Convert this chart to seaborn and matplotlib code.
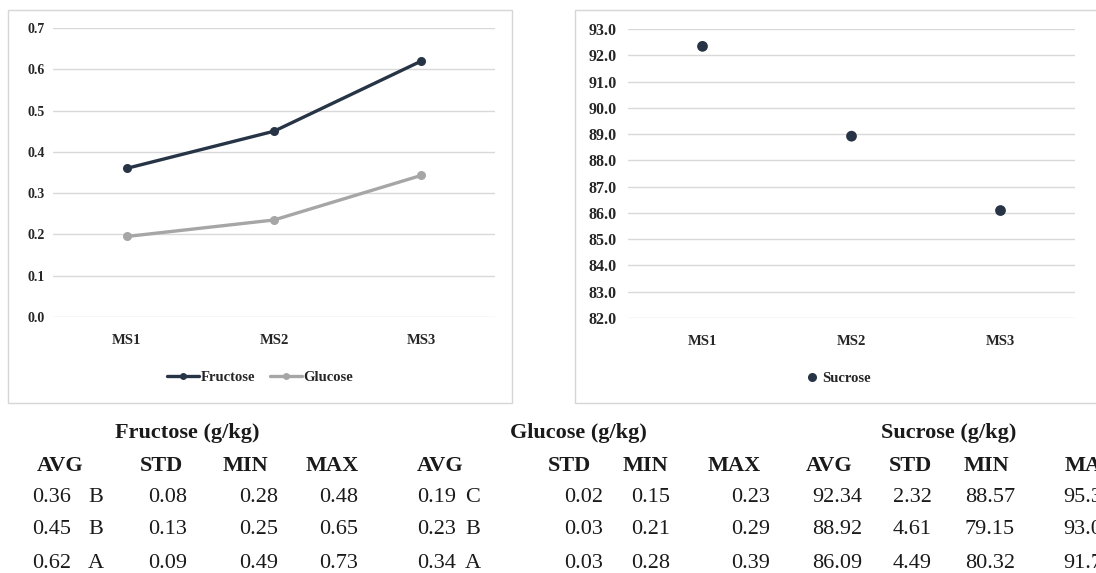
import matplotlib
matplotlib.use("Agg")
import matplotlib.pyplot as plt
import seaborn as sns
import pandas as pd
from matplotlib.patches import Rectangle
from matplotlib.lines import Line2D

# ---------------- data ----------------
samples = ["MS1", "MS2", "MS3"]
fructose = [0.36, 0.45, 0.62]
glucose = [0.195, 0.235, 0.343]
sucrose = [92.34, 88.92, 86.09]

left_yticks = [0.0, 0.1, 0.2, 0.3, 0.4, 0.5, 0.6, 0.7]
right_yticks = [82.0, 83.0, 84.0, 85.0, 86.0, 87.0, 88.0, 89.0, 90.0, 91.0, 92.0, 93.0]

table_titles = ["Fructose (g/kg)", "Glucose (g/kg)", "Sucrose (g/kg)"]
table_headers = ["AVG", "STD", "MIN", "MAX"]
fru_avg = ["0.36", "0.45", "0.62"]
fru_grp = ["B", "B", "A"]
fru_std = ["0.08", "0.13", "0.09"]
fru_min = ["0.28", "0.25", "0.49"]
fru_max = ["0.48", "0.65", "0.73"]
glu_avg = ["0.19", "0.23", "0.34"]
glu_grp = ["C", "B", "A"]
glu_std = ["0.02", "0.03", "0.03"]
glu_min = ["0.15", "0.21", "0.28"]
glu_max = ["0.23", "0.29", "0.39"]
suc_avg = ["92.34", "88.92", "86.09"]
suc_std = ["2.32", "4.61", "4.49"]
suc_min = ["88.57", "79.15", "80.32"]
suc_max = ["95.35", "93.05", "91.72"]

# ---------------- style ----------------
sns.set_theme(style="white")
plt.rcParams["font.family"] = ["Liberation Serif", "DejaVu Serif"]

W, H = 1096, 573
fig = plt.figure(figsize=(W / 100, H / 100), dpi=100)
fig.patch.set_facecolor("white")


def fx(x):
    return x / W


def fy(y):
    return 1 - y / H


NAVY = "#263445"
GRAY = "#a6a6a6"
GRID = "#d9d9d9"

# panel boxes
fig.patches.append(Rectangle((fx(8), fy(403)), fx(504), (403 - 10) / H,
                             transform=fig.transFigure, fill=False,
                             edgecolor="#d6d6d6", linewidth=1.0))
fig.patches.append(Rectangle((fx(575), fy(403)), fx(540), (403 - 10) / H,
                             transform=fig.transFigure, fill=False,
                             edgecolor="#d6d6d6", linewidth=1.0))

cat_font = dict(family="Liberation Serif", weight="bold", size=10.5)

# ---------------- left chart ----------------
axl = fig.add_axes([fx(53), fy(317), (495 - 53) / W, (317 - 28) / H])
df_l = pd.DataFrame({
    "Sample": samples * 2,
    "Value": fructose + glucose,
    "Sugar": ["Fructose"] * 3 + ["Glucose"] * 3,
})
df_l["x"] = df_l["Sample"].map({s: i for i, s in enumerate(samples)})
sns.lineplot(data=df_l, x="x", y="Value", hue="Sugar",
             palette={"Fructose": NAVY, "Glucose": GRAY},
             marker="o", markersize=6.5, markeredgewidth=0, linewidth=2.4,
             ax=axl, legend=False)
axl.set_xlim(-0.5, 2.5)
axl.set_ylim(0, 0.7)
axl.set_yticks(left_yticks)
axl.set_yticklabels([f"{v:.1f}" for v in left_yticks],
                    fontdict=dict(family="Liberation Serif", weight="bold", size=10))
axl.set_xticks(range(len(samples)))
axl.set_xticklabels(samples, fontdict=cat_font)
axl.tick_params(axis="x", length=0, pad=12.5)
axl.tick_params(axis="y", length=0, pad=6)
axl.grid(axis="y", color=GRID, linewidth=1.0)
axl.set_axisbelow(True)
for s in axl.spines.values():
    s.set_visible(False)
axl.set_xlabel("")
axl.set_ylabel("")

handles_l = [Line2D([], [], color=NAVY, lw=2.4, marker="o", markersize=5, markeredgewidth=0),
             Line2D([], [], color=GRAY, lw=2.4, marker="o", markersize=5, markeredgewidth=0)]
fig.legend(handles_l, ["Fructose", "Glucose"], loc="center",
           bbox_to_anchor=(fx(260), fy(377)), ncol=2, frameon=False,
           prop=dict(family="Liberation Serif", weight="bold", size=10.5),
           handlelength=2.2, handletextpad=0.1, columnspacing=1.0)

# ---------------- right chart ----------------
axr = fig.add_axes([fx(628), fy(318), (1075 - 628) / W, (318 - 29) / H])
df_r = pd.DataFrame({"Sample": samples, "Value": sucrose})
df_r["x"] = range(len(samples))
sns.scatterplot(data=df_r, x="x", y="Value", color=NAVY, s=60,
                edgecolor="none", ax=axr, legend=False)
axr.set_xlim(-0.5, 2.5)
axr.set_ylim(82, 93)
axr.set_yticks(right_yticks)
axr.set_yticklabels([f"{v:.1f}" for v in right_yticks],
                    fontdict=dict(family="Liberation Serif", weight="bold", size=11.5))
axr.set_xticks(range(len(samples)))
axr.set_xticklabels(samples, fontdict=cat_font)
axr.tick_params(axis="x", length=0, pad=12.5)
axr.tick_params(axis="y", length=0, pad=8)
axr.grid(axis="y", color=GRID, linewidth=1.0)
axr.set_axisbelow(True)
for s in axr.spines.values():
    s.set_visible(False)
axr.set_xlabel("")
axr.set_ylabel("")

handles_r = [Line2D([], [], color=NAVY, lw=0, marker="o", markersize=6.5, markeredgewidth=0)]
fig.legend(handles_r, ["Sucrose"], loc="center",
           bbox_to_anchor=(fx(838), fy(378)), frameon=False,
           prop=dict(family="Liberation Serif", weight="bold", size=10.5),
           handlelength=0.8, handletextpad=0.3)

# ---------------- table ----------------
TS = 16
title_y = 433
head_y = 466
row_y = [497, 530, 563]


def t(x, y, s, ha="left", weight="normal", size=TS):
    fig.text(fx(x), fy(y), s, ha=ha, va="center", fontsize=size,
             fontweight=weight, family="Liberation Serif", color="#1a1a1a")


# titles
t(187, title_y, table_titles[0], ha="center", weight="bold")
t(578, title_y, table_titles[1], ha="center", weight="bold")
t(949, title_y, table_titles[2], ha="center", weight="bold")

# headers
for x, h, ha in [(60, "AVG", "center"), (161, "STD", "center"), (245, "MIN", "center"), (332, "MAX", "center"),
                 (440, "AVG", "center"), (569, "STD", "center"), (645, "MIN", "center"), (734, "MAX", "center"),
                 (829, "AVG", "center"), (910, "STD", "center"), (986, "MIN", "center"), (1065, "MAX", "left")]:
    t(x, head_y, h, ha=ha, weight="bold")

for i, y in enumerate(row_y):
    t(32, y, fru_avg[i])
    t(88, y, fru_grp[i])
    t(187, y, fru_std[i], ha="right")
    t(278, y, fru_min[i], ha="right")
    t(358, y, fru_max[i], ha="right")
    t(417, y, glu_avg[i])
    t(465, y, glu_grp[i])
    t(603, y, glu_std[i], ha="right")
    t(670, y, glu_min[i], ha="right")
    t(770, y, glu_max[i], ha="right")
    t(862, y, suc_avg[i], ha="right")
    t(932, y, suc_std[i], ha="right")
    t(1015, y, suc_min[i], ha="right")
    t(1063, y, suc_max[i])

fig.savefig("out.png", dpi=100, facecolor="white")
